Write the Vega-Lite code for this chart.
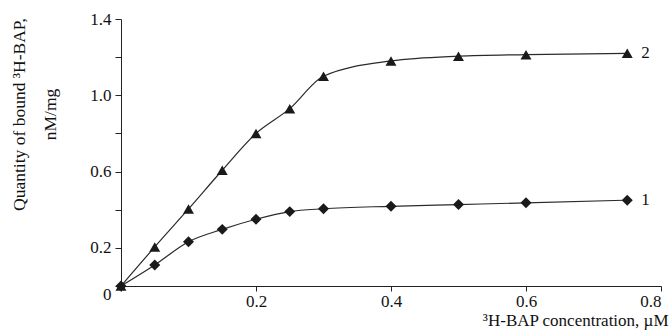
{
  "$schema": "https://vega.github.io/schema/vega-lite/v6.json",
  "autosize": {"type": "none"},
  "width": 540,
  "height": 267,
  "padding": {"left": 121, "top": 19, "right": 11, "bottom": 45},
  "background": "white",
  "config": {
    "view": {"stroke": null},
    "font": "Liberation Serif",
    "axis": {"grid": false, "domainColor": "#222", "tickColor": "#222", "labelColor": "#111", "titleColor": "#111", "labelFont": "Liberation Serif", "titleFont": "Liberation Serif", "titleFontWeight": "normal", "domainWidth": 1, "tickWidth": 1}
  },
  "data": {
    "values": [
      {"x": 0, "y": 0, "series": "1"},
      {"x": 0.05, "y": 0.11, "series": "1"},
      {"x": 0.1, "y": 0.232, "series": "1"},
      {"x": 0.15, "y": 0.297, "series": "1"},
      {"x": 0.2, "y": 0.35, "series": "1"},
      {"x": 0.25, "y": 0.39, "series": "1"},
      {"x": 0.3, "y": 0.405, "series": "1"},
      {"x": 0.4, "y": 0.418, "series": "1"},
      {"x": 0.5, "y": 0.427, "series": "1"},
      {"x": 0.6, "y": 0.436, "series": "1"},
      {"x": 0.75, "y": 0.45, "series": "1"},
      {"x": 0, "y": 0, "series": "2"},
      {"x": 0.05, "y": 0.205, "series": "2"},
      {"x": 0.1, "y": 0.404, "series": "2"},
      {"x": 0.15, "y": 0.607, "series": "2"},
      {"x": 0.2, "y": 0.8, "series": "2"},
      {"x": 0.25, "y": 0.93, "series": "2"},
      {"x": 0.3, "y": 1.1, "series": "2"},
      {"x": 0.4, "y": 1.18, "series": "2"},
      {"x": 0.5, "y": 1.205, "series": "2"},
      {"x": 0.6, "y": 1.213, "series": "2"},
      {"x": 0.75, "y": 1.22, "series": "2"}
    ]
  },
  "encoding": {
    "x": {
      "field": "x", "type": "quantitative",
      "scale": {"domain": [0, 0.8], "nice": false},
      "axis": {
        "values": [0, 0.2, 0.4, 0.6, 0.8],
        "labelExpr": "datum.value == 0 ? '' : format(datum.value, '.1f')",
        "labelFontSize": 17, "labelPadding": 2, "tickSize": 5,
        "title": "³H-BAP concentration, µM",
        "titleFontSize": 17, "titleAlign": "right", "titleBaseline": "middle",
        "titleAnchor": "end", "titleX": 547, "titleY": 34
      }
    },
    "y": {
      "field": "y", "type": "quantitative",
      "scale": {"domain": [0, 1.4], "nice": false},
      "axis": {
        "values": [0, 0.2, 0.4, 0.6, 0.8, 1.0, 1.2, 1.4],
        "labelExpr": "(abs(datum.value-0.4)<0.01 || abs(datum.value-0.8)<0.01 || abs(datum.value-1.2)<0.01) ? '' : (datum.value == 0 ? '0' : format(datum.value, '.1f'))",
        "labelFontSize": 17, "labelPadding": 4, "tickSize": 6,
        "labelBaseline": {"condition": {"test": "datum.value == 0", "value": "top"}, "value": "middle"},
        "title": ["Quantity of bound ³H-BAP,", "nM/mg"],
        "titleFontSize": 17.5, "titleLineHeight": 31, "titleAngle": -90,
        "titleAlign": "center", "titleBaseline": "middle",
        "titleX": -102, "titleY": 95
      }
    }
  },
  "layer": [
    {
      "mark": {"type": "line", "interpolate": "monotone", "color": "#2a2a2a", "strokeWidth": 1.2},
      "encoding": {"detail": {"field": "series", "type": "nominal"}}
    },
    {
      "mark": {"type": "point", "filled": true, "opacity": 1, "color": "#1a1a1a", "size": 120},
      "encoding": {
        "shape": {"field": "series", "type": "nominal", "scale": {"domain": ["1", "2"], "range": ["diamond", "triangle-up"]}, "legend": null}
      }
    },
    {
      "transform": [{"filter": "datum.x == 0.75"}],
      "mark": {"type": "text", "align": "left", "baseline": "middle", "dx": 14, "fontSize": 17, "font": "Liberation Serif", "color": "#111"},
      "encoding": {"text": {"field": "series", "type": "nominal"}}
    }
  ]
}
